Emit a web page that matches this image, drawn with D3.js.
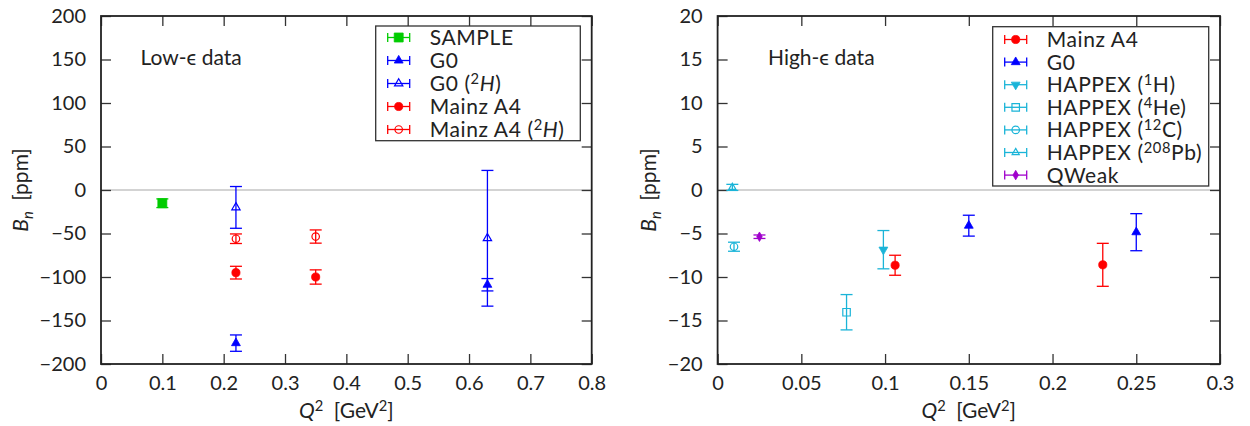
<!DOCTYPE html>
<html><head><meta charset="utf-8">
<script src="https://cdn.jsdelivr.net/npm/d3@7"></script>
<style>
body{margin:0;background:#fff}
svg text{font-family:Lato,"Open Sans",sans-serif;fill:#222}
</style>
</head><body><svg id="c" width="1250" height="426"></svg>
<script>
// ---------- Tick labels ----------
const lowXTicks = [0,0.1,0.2,0.3,0.4,0.5,0.6,0.7,0.8];
const lowXTickLabels = ["0","0.1","0.2","0.3","0.4","0.5","0.6","0.7","0.8"];
const lowYTicks = [-200,-150,-100,-50,0,50,100,150,200];
const lowYTickLabels = ["\u2212200","\u2212150","\u2212100","\u221250","0","50","100","150","200"];
const highXTicks = [0,0.05,0.1,0.15,0.2,0.25,0.3];
const highXTickLabels = ["0","0.05","0.1","0.15","0.2","0.25","0.3"];
const highYTicks = [-20,-15,-10,-5,0,5,10,15,20];
const highYTickLabels = ["\u221220","\u221215","\u221210","\u22125","0","5","10","15","20"];

// ---------- Low-epsilon data ----------
const sampleQ2 = [0.10],        sampleBn = [-15.2],        sampleErr = [5.0];
const g0LowQ2 = [0.22, 0.63],   g0LowBn = [-176, -108.9],  g0LowErr = [9.4, 7.1];
const g0dLowQ2 = [0.22, 0.63],  g0dLowBn = [-20, -55.5],   g0dLowErr = [24, 78];
const a4LowQ2 = [0.22, 0.35],   a4LowBn = [-95, -100],     a4LowErr = [7.3, 8.2];
const a4dLowQ2 = [0.22, 0.35],  a4dLowBn = [-56, -53.5],   a4dLowErr = [5.5, 7.6];

// ---------- High-epsilon data ----------
const a4HighQ2 = [0.106, 0.23], a4HighBn = [-8.65, -8.6],  a4HighErr = [1.15, 2.47];
const g0HighQ2 = [0.15, 0.25],  g0HighBn = [-4.1, -4.85],  g0HighErr = [1.2, 2.13];
const hapHQ2 = [0.099],         hapHBn = [-6.86],          hapHErr = [2.2];
const hapHeQ2 = [0.077],        hapHeBn = [-14.05],        hapHeErr = [2.03];
const hapCQ2 = [0.0098],        hapCBn = [-6.52],          hapCErr = [0.52];
const hapPbQ2 = [0.0088],       hapPbBn = [0.3],           hapPbErr = [0.35];
const qweakQ2 = [0.025],        qweakBn = [-5.37],         qweakErr = [0.2];

const RED="#ff0000", BLUE="#0000ff", GREEN="#00cc00", CYAN="#1ab4d8", PURPLE="#a000cc";

const svg = d3.select("#c");

function zip(q,b,e){ return q.map((v,i)=>({q:v,b:b[i],e:e[i]})); }

function rich(textSel, parts){
  let shift = 0;
  parts.forEach(([t,s])=>{
    const ts = textSel.append("tspan").text(t);
    let target = 0;
    if (s==="sup") { target = -7; ts.attr("font-size","70%"); }
    if (s==="sub") { target = 5; ts.attr("font-size","70%"); ts.attr("font-style","italic"); }
    if (s==="it") ts.attr("font-style","italic");
    if (target!==shift){ ts.attr("dy", target-shift); shift = target; }
  });
}

function symbolPath(kind){
  switch(kind){
    case "square": return d3.symbol(d3.symbolSquare, 80)();
    case "osquare": return d3.symbol(d3.symbolSquare, 56)();
    case "tri": return d3.symbol(d3.symbolTriangle, 34)();
    case "otri": return d3.symbol(d3.symbolTriangle, 30)();
    case "stri": return d3.symbol(d3.symbolTriangle, 22)();
    case "dtri": return d3.symbol(d3.symbolTriangle, 34)();
    case "circle": return d3.symbol(d3.symbolCircle, 52)();
    case "ocircle": return d3.symbol(d3.symbolCircle, 44)();
    case "diamond": return d3.symbol(d3.symbolDiamond, 26)();
  }
}

function marker(g, kind, color, filled, cx, cy){
  g.append("path").attr("d", symbolPath(kind))
    .attr("transform", `translate(${cx},${cy})` + (kind==="dtri" ? " rotate(180)" : ""))
    .attr("stroke", color).attr("stroke-width", filled ? 0.8 : 1.2)
    .attr("fill", filled ? color : "none");
}

function panel(cfg){
  const x = d3.scaleLinear().domain(cfg.xDomain).range([cfg.x0, cfg.x1]);
  const y = d3.scaleLinear().domain(cfg.yDomain).range([364, 16]);
  const g = svg.append("g");

  // zero line
  g.append("line").attr("x1",x.range()[0]).attr("x2",x.range()[1])
    .attr("y1",y(0)).attr("y2",y(0)).attr("stroke","#a8a8a8").attr("stroke-width",1.2);

  // axes (inward ticks on all sides)
  const styleAxis = a => { a.select(".domain").remove(); a.selectAll(".tick line").attr("stroke","#333").attr("stroke-width",1.3); };
  const bx = g.append("g").attr("transform",`translate(0,364)`)
    .call(d3.axisBottom(x).tickValues(cfg.xTicks).tickFormat((d,i)=>cfg.xLabels[i]).tickSizeInner(-10).tickSizeOuter(0).tickPadding(12));
  styleAxis(bx);
  bx.selectAll("text").attr("font-size",20).attr("fill","#222").style("font-family","Lato");
  const tx = g.append("g").attr("transform",`translate(0,16)`)
    .call(d3.axisTop(x).tickValues(cfg.xTicks).tickFormat("").tickSizeInner(-10).tickSizeOuter(0));
  styleAxis(tx);
  const ly = g.append("g").attr("transform",`translate(${cfg.x0},0)`)
    .call(d3.axisLeft(y).tickValues(cfg.yTicks).tickFormat((d,i)=>cfg.yLabels[i]).tickSizeInner(-10).tickSizeOuter(0).tickPadding(15));
  styleAxis(ly);
  ly.selectAll("text").attr("font-size",20).attr("fill","#222").style("font-family","Lato");
  const ry = g.append("g").attr("transform",`translate(${cfg.x1},0)`)
    .call(d3.axisRight(y).tickValues(cfg.yTicks).tickFormat("").tickSizeInner(-10).tickSizeOuter(0));
  styleAxis(ry);

  // data
  cfg.series.forEach(s=>{
    const sg = g.append("g");
    s.data.forEach(d=>{
      const cx = x(d.q), yt = y(d.b + d.e), yb = y(d.b - d.e);
      sg.append("line").attr("x1",cx).attr("x2",cx).attr("y1",yt).attr("y2",yb).attr("stroke",s.color).attr("stroke-width",1.3);
      [yt,yb].forEach(yy=> sg.append("line").attr("x1",cx-6).attr("x2",cx+6).attr("y1",yy).attr("y2",yy).attr("stroke",s.color).attr("stroke-width",1.3));
      marker(sg, s.kind, s.color, s.filled, cx, y(d.b));
    });
  });

  // legend
  const L = cfg.legend;
  const lg = g.append("g");
  lg.append("rect").attr("x",L.x).attr("y",L.y).attr("width",L.w).attr("height",L.h)
    .attr("fill","#fff").attr("stroke","#333").attr("stroke-width",1.3);
  cfg.series.forEach((s,i)=>{
    const ry0 = L.row0 + i*L.step, cx = L.x + 23;
    lg.append("line").attr("x1",cx-11).attr("x2",cx+11).attr("y1",ry0).attr("y2",ry0).attr("stroke",s.color).attr("stroke-width",1.3);
    [cx-11,cx+11].forEach(xx=> lg.append("line").attr("x1",xx).attr("x2",xx).attr("y1",ry0-4.5).attr("y2",ry0+4.5).attr("stroke",s.color).attr("stroke-width",1.3));
    marker(lg, s.kind, s.color, s.filled, cx, ry0);
    const t = lg.append("text").attr("x", L.x + 54).attr("y", ry0 + 7.5).attr("font-size",21).attr("letter-spacing",0.6);
    rich(t, s.label);
  });

  // frame
  g.append("rect").attr("x",cfg.x0).attr("y",16).attr("width",cfg.x1-cfg.x0).attr("height",348)
    .attr("fill","none").attr("stroke","#222").attr("stroke-width",1.8);

  // annotation
  g.append("text").attr("x",cfg.noteX).attr("y",65).attr("font-size",21).text(cfg.note);

  // axis titles
  const xt = g.append("text").attr("x",(cfg.x0+cfg.x1)/2).attr("y",418).attr("text-anchor","middle").attr("font-size",21);
  rich(xt, [["Q","it"],["2","sup"],["\u2002[GeV",""],["2","sup"],["]",""]]);
  const yt = g.append("text").attr("transform",`translate(${cfg.yTitleX},190) rotate(-90)`).attr("text-anchor","middle").attr("font-size",21);
  rich(yt, [["B","it"],["n","sub"],["\u2002[ppm]",""]]);
}

panel({
  xDomain:[0,0.8], yDomain:[-200,200], x0:101, x1:591.7,
  xTicks:lowXTicks, xLabels:lowXTickLabels, yTicks:lowYTicks, yLabels:lowYTickLabels,
  note:"Low-\u03F5 data", noteX:140.5, yTitleX:28,
  legend:{x:375.7, y:26, w:204.6, h:114.7, row0:37.5, step:23},
  series:[
    {label:[["SAMPLE",""]], data:zip(sampleQ2,sampleBn,sampleErr), color:GREEN, kind:"square", filled:true},
    {label:[["G0",""]], data:zip(g0LowQ2,g0LowBn,g0LowErr), color:BLUE, kind:"tri", filled:true},
    {label:[["G0 (",""],["2","sup"],["H","it"],[")",""]], data:zip(g0dLowQ2,g0dLowBn,g0dLowErr), color:BLUE, kind:"otri", filled:false},
    {label:[["Mainz A4",""]], data:zip(a4LowQ2,a4LowBn,a4LowErr), color:RED, kind:"circle", filled:true},
    {label:[["Mainz A4 (",""],["2","sup"],["H","it"],[")",""]], data:zip(a4dLowQ2,a4dLowBn,a4dLowErr), color:RED, kind:"ocircle", filled:false}
  ]
});

panel({
  xDomain:[0,0.3], yDomain:[-20,20], x0:717.6, x1:1220,
  xTicks:highXTicks, xLabels:highXTickLabels, yTicks:highYTicks, yLabels:highYTickLabels,
  note:"High-\u03F5 data", noteX:768, yTitleX:656,
  legend:{x:992.7, y:26.7, w:216, h:159.3, row0:39.5, step:22.6},
  series:[
    {label:[["Mainz A4",""]], data:zip(a4HighQ2,a4HighBn,a4HighErr), color:RED, kind:"circle", filled:true},
    {label:[["G0",""]], data:zip(g0HighQ2,g0HighBn,g0HighErr), color:BLUE, kind:"tri", filled:true},
    {label:[["HAPPEX (",""],["1","sup"],["H)",""]], data:zip(hapHQ2,hapHBn,hapHErr), color:CYAN, kind:"dtri", filled:true},
    {label:[["HAPPEX (",""],["4","sup"],["He)",""]], data:zip(hapHeQ2,hapHeBn,hapHeErr), color:CYAN, kind:"osquare", filled:false},
    {label:[["HAPPEX (",""],["12","sup"],["C)",""]], data:zip(hapCQ2,hapCBn,hapCErr), color:CYAN, kind:"ocircle", filled:false},
    {label:[["HAPPEX (",""],["208","sup"],["Pb)",""]], data:zip(hapPbQ2,hapPbBn,hapPbErr), color:CYAN, kind:"stri", filled:false},
    {label:[["QWeak",""]], data:zip(qweakQ2,qweakBn,qweakErr), color:PURPLE, kind:"diamond", filled:true}
  ]
});
</script></body></html>
